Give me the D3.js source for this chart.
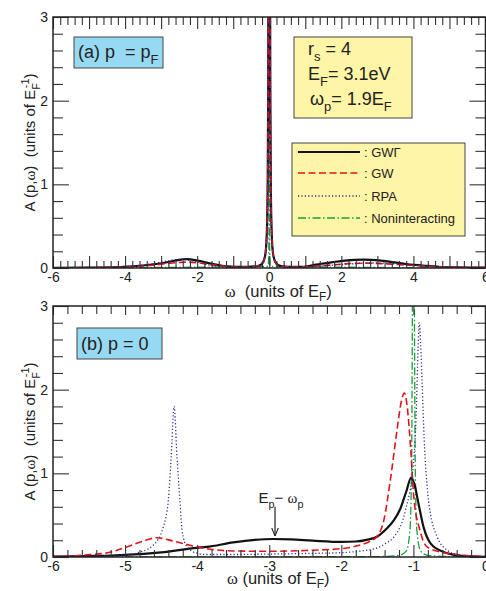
<!DOCTYPE html>
<html><head><meta charset="utf-8">
<script src="https://cdn.jsdelivr.net/npm/d3@7"></script>
<style>
html,body{margin:0;padding:0;background:#fff;}
svg{display:block;font-family:"Liberation Sans",Arial,Helvetica,sans-serif;}
text{fill:#222;}
</style></head><body>
<svg id="c" width="486" height="591"></svg>
<script>
// ---------------- data ----------------
const seriesNames = ["GWΓ", "GW", "RPA", "Noninteracting"];

// Panel (a): p = pF   [omega, A]
const topGWG = [[-6,0.002],[-5,0.004],[-4.2,0.01],[-3.8,0.02],[-3.5,0.03],[-3.2,0.045],[-2.94,0.06],[-2.6,0.09],[-2.29,0.107],[-2.0,0.09],[-1.65,0.056],[-1.4,0.035],[-1.19,0.02],[-0.9,0.015],[-0.6,0.015],[-0.4,0.02],[-0.3,0.025],[-0.2,0.05],[-0.12,0.135],[-0.08,0.3],[-0.065,0.46],[-0.045,0.95],[-0.03,2.1],[-0.02,4.5],[-0.01,12],[0,30],[0.01,12],[0.02,4.5],[0.03,2.1],[0.045,0.95],[0.065,0.46],[0.08,0.3],[0.12,0.135],[0.2,0.05],[0.3,0.025],[0.5,0.015],[0.9,0.015],[1.3,0.04],[1.68,0.065],[2.1,0.088],[2.6,0.1],[3.1,0.088],[3.52,0.065],[3.9,0.042],[4.26,0.03],[4.7,0.015],[5.2,0.008],[6,0.004]];
const topGW = [[-6,0.002],[-4.5,0.008],[-3.8,0.015],[-3.3,0.03],[-2.9,0.05],[-2.5,0.066],[-2.25,0.07],[-2.0,0.063],[-1.7,0.045],[-1.4,0.028],[-1.1,0.016],[-0.7,0.012],[-0.3,0.025],[-0.2,0.05],[-0.12,0.135],[-0.08,0.3],[-0.065,0.46],[-0.045,0.95],[-0.03,2.1],[-0.02,4.5],[-0.01,12],[0,30],[0.01,12],[0.02,4.5],[0.03,2.1],[0.045,0.95],[0.065,0.46],[0.08,0.3],[0.12,0.135],[0.2,0.05],[0.3,0.025],[0.7,0.012],[1.2,0.02],[1.7,0.035],[2.2,0.052],[2.7,0.058],[3.2,0.05],[3.7,0.037],[4.2,0.025],[4.8,0.014],[5.5,0.007],[6,0.005]];
const topRPA = [[-6,0.002],[-4,0.015],[-3.5,0.035],[-3.0,0.07],[-2.6,0.1],[-2.4,0.105],[-2.2,0.09],[-1.9,0.06],[-1.6,0.03],[-1.3,0.015],[-0.8,0.01],[-0.3,0.025],[-0.2,0.05],[-0.12,0.135],[-0.08,0.3],[-0.065,0.46],[-0.045,0.95],[-0.03,2.1],[-0.02,4.5],[-0.01,12],[0,30],[0.01,12],[0.02,4.5],[0.03,2.1],[0.045,0.95],[0.065,0.46],[0.08,0.3],[0.12,0.135],[0.2,0.05],[0.3,0.025],[0.8,0.01],[1.3,0.02],[1.8,0.035],[2.3,0.05],[2.8,0.06],[3.3,0.055],[3.8,0.04],[4.3,0.027],[5,0.012],[6,0.005]];
const topNonint = [[-6,0],[-0.03,0.02],[-0.01,0.3],[-0.003,3],[0,50],[0.003,3],[0.01,0.3],[0.03,0.02],[6,0]];

// Panel (b): p = 0   [omega, A]
const botGWG = [[-6,0.005],[-5.5,0.012],[-5.2,0.018],[-5,0.025],[-4.5,0.056],[-4,0.11],[-3.87,0.12],[-3.5,0.175],[-3.2,0.205],[-2.95,0.215],[-2.7,0.21],[-2.4,0.195],[-2.0,0.18],[-1.8,0.185],[-1.65,0.205],[-1.5,0.245],[-1.37,0.34],[-1.27,0.44],[-1.18,0.58],[-1.1,0.78],[-1.03,0.95],[-0.98,0.85],[-0.93,0.64],[-0.86,0.36],[-0.76,0.16],[-0.58,0.06],[-0.39,0.02],[-0.2,0.008],[0,0.003]];
const botGW = [[-6,0.005],[-5.7,0.015],[-5.5,0.028],[-5.21,0.056],[-4.98,0.12],[-4.75,0.19],[-4.56,0.23],[-4.33,0.19],[-4.1,0.14],[-3.87,0.1],[-3.5,0.072],[-3.0,0.068],[-2.5,0.078],[-2.0,0.1],[-1.75,0.14],[-1.6,0.19],[-1.5,0.25],[-1.41,0.44],[-1.32,0.92],[-1.227,1.52],[-1.17,1.85],[-1.125,1.96],[-1.08,1.75],[-1.04,1.32],[-0.995,0.72],[-0.91,0.32],[-0.81,0.12],[-0.625,0.06],[-0.4,0.03],[-0.2,0.012],[0,0.005]];
const botRPA = [[-6,0.003],[-5.5,0.01],[-5.02,0.025],[-4.79,0.06],[-4.61,0.14],[-4.47,0.36],[-4.4,0.68],[-4.36,1.2],[-4.32,1.8],[-4.28,1.2],[-4.24,0.68],[-4.21,0.32],[-4.14,0.12],[-4.0,0.045],[-3.87,0.03],[-3.5,0.03],[-3.0,0.035],[-2.5,0.042],[-2.0,0.052],[-1.7,0.075],[-1.5,0.11],[-1.37,0.17],[-1.27,0.24],[-1.11,0.56],[-1.0,1.12],[-0.96,1.75],[-0.935,2.5],[-0.92,2.8],[-0.9,2.55],[-0.88,2.1],[-0.85,1.4],[-0.8,0.75],[-0.76,0.5],[-0.67,0.24],[-0.53,0.08],[-0.375,0.025],[-0.2,0.008],[0,0.003]];
const botNonint = [[-6,0],[-1.5,0.005],[-1.2,0.02],[-1.1,0.07],[-1.05,0.3],[-1.03,0.8],[-1.02,1.8],[-1.012,4],[-1.0,50],[-0.988,4],[-0.98,1.8],[-0.97,0.8],[-0.95,0.3],[-0.9,0.07],[-0.8,0.02],[-0.5,0.005],[0,0]];

const topXLabels = [-6, -4, -2, 0, 2, 4, 6];
const botXLabels = [-6, -5, -4, -3, -2, -1, 0];
const yLabels = [0, 1, 2, 3];
const annotationPoint = [-2.92, 0.6, 0.25]; // omega, A at arrow tail, A at arrow head

// ---------------- drawing ----------------
const svg = d3.select("#c");
const styles = [
  {color:"#111111", width:2.2, dash:null},
  {color:"#e3131b", width:1.6, dash:"7,3.5"},
  {color:"#2b2b9e", width:1.3, dash:"1.2,2.2"},
  {color:"#1a9e3c", width:1.3, dash:"8,2.5,1.5,2.5"}
];

function rich(sel, x, y, segs, size, anchor, rotate, subShift) {
  const t = sel.append("text").attr("x", x).attr("y", y)
    .attr("font-size", size).attr("text-anchor", anchor || "start")
    .style("white-space", "pre");
  if (rotate) t.attr("transform", `rotate(${rotate},${x},${y})`);
  let shift = 0;
  segs.forEach(s => {
    const txt = typeof s === "string" ? s : s[0];
    const kind = typeof s === "string" ? null : s[1];
    const opt = (typeof s === "string" ? null : s[2]) || {};
    const target = kind === "sub" ? size * (subShift || 0.32) : kind === "sup" ? -size * 0.42 : 0;
    const ts = t.append("tspan").text(txt).attr("dy", target - shift);
    if (kind) ts.attr("font-size", size * 0.72);
    if (opt.serif) ts.attr("font-family", "'Liberation Serif','DejaVu Serif',serif");
    if (opt.dx) ts.attr("dx", opt.dx);
    shift = target;
  });
  return t;
}

function panel(cfg) {
  const g = svg.append("g");
  const x = d3.scaleLinear().domain(cfg.xDomain).range([cfg.left, cfg.right]);
  const y = d3.scaleLinear().domain([0, 3]).range([cfg.bottom, cfg.top]);
  const id = "clip" + cfg.name;
  svg.append("clipPath").attr("id", id).append("rect")
    .attr("x", cfg.left).attr("y", cfg.top)
    .attr("width", cfg.right - cfg.left).attr("height", cfg.bottom - cfg.top);

  const line = d3.line().x(d => x(d[0])).y(d => y(d[1])).curve(d3.curveMonotoneX);
  const lines = g.append("g").attr("clip-path", `url(#${id})`);
  cfg.order.forEach(i => {
    const st = styles[i];
    lines.append("path").datum(cfg.series[i]).attr("d", line)
      .attr("fill", "none").attr("stroke", st.color).attr("stroke-width", st.width)
      .attr("stroke-dasharray", st.dash).attr("stroke-linejoin", "round");
  });

  const [x0, x1] = cfg.xDomain;
  const minorX = d3.range(x0, x1 + 1e-9, 0.2).map(v => +v.toFixed(2)).filter(v => Math.abs(v - Math.round(v)) > 1e-6);
  const majorX = d3.range(x0, x1 + 1e-9, 1);
  const minorY = d3.range(0, 3 + 1e-9, 0.2).map(v => +v.toFixed(2)).filter(v => Math.abs(v - Math.round(v)) > 1e-6);

  const ax = g.append("g");
  const add = (gen, tr) => ax.append("g").attr("transform", tr).call(gen);
  add(d3.axisBottom(x).tickValues(minorX).tickSize(-7).tickFormat(""), `translate(0,${cfg.bottom})`);
  add(d3.axisBottom(x).tickValues(majorX).tickSize(-12).tickFormat(""), `translate(0,${cfg.bottom})`);
  add(d3.axisBottom(x).tickValues(cfg.xLabels).tickSize(0).tickPadding(4).tickFormat(d => String(d)), `translate(0,${cfg.bottom})`);
  add(d3.axisTop(x).tickValues(minorX).tickSize(-8).tickFormat(""), `translate(0,${cfg.top})`);
  add(d3.axisTop(x).tickValues(majorX).tickSize(cfg.topMajor).tickFormat(""), `translate(0,${cfg.top})`);
  add(d3.axisLeft(y).tickValues(minorY).tickSize(-10).tickFormat(""), `translate(${cfg.left},0)`);
  add(d3.axisLeft(y).tickValues(yLabels).tickSize(-16).tickPadding(5).tickFormat(d => String(d)), `translate(${cfg.left},0)`);
  add(d3.axisRight(y).tickValues(minorY).tickSize(-10).tickFormat(""), `translate(${cfg.right},0)`);
  add(d3.axisRight(y).tickValues(yLabels).tickSize(-16).tickFormat(""), `translate(${cfg.right},0)`);
  ax.selectAll(".domain").remove();
  ax.selectAll(".tick line").attr("stroke", "#333").attr("stroke-width", 1.1);
  ax.selectAll(".tick text").attr("font-size", 14).attr("fill", "#222")
    .attr("font-family", "'Liberation Sans',Arial,sans-serif");

  g.append("rect").attr("x", cfg.left).attr("y", cfg.top)
    .attr("width", cfg.right - cfg.left).attr("height", cfg.bottom - cfg.top)
    .attr("fill", "none").attr("stroke", "#222").attr("stroke-width", 1.5);

  // axis titles
  rich(g, (cfg.left + cfg.right) / 2 + 9, cfg.bottom + cfg.titleGap, [["ω", null, {serif:true}], cfg.titleSpace + "(units of E", ["F", "sub"], ")"], 16.5, "middle", null, 0.26);
  rich(g, 35, (cfg.top + cfg.bottom) / 2, ["A (p,", ["ω", null, {serif:true}], ")  (units of E", ["F", "sub"], ["-1", "sup", {dx:-5}], ")"], 15, "middle", -90);
  return {x, y, g};
}

// Panel (a)
const pa = panel({name:"a", xDomain:[-6, 6], left:53, right:485.5, top:17, bottom:268,
  series:[topGWG, topGW, topRPA, topNonint], order:[3, 0, 1, 2], xLabels:topXLabels, topMajor:-12,
  titleGap:29, titleSpace:"  "});
// Panel (b)
const pb = panel({name:"b", xDomain:[-6, 0], left:53, right:485.5, top:306, bottom:557,
  series:[botGWG, botGW, botRPA, botNonint], order:[3, 0, 1, 2], xLabels:botXLabels, topMajor:-9,
  titleGap:27, titleSpace:" "});

// panel tags
svg.append("rect").attr("x", 74).attr("y", 37).attr("width", 89).attr("height", 31)
  .attr("fill", "#97d9f3").attr("stroke", "#444").attr("stroke-width", 1);
rich(svg, 78, 58, ["(a) p  = p", ["F", "sub"]], 18);
svg.append("rect").attr("x", 77).attr("y", 328).attr("width", 85).attr("height", 31)
  .attr("fill", "#97d9f3").attr("stroke", "#444").attr("stroke-width", 1);
rich(svg, 81, 350, ["(b) p = 0"], 18);

// parameters box
svg.append("rect").attr("x", 294).attr("y", 37).attr("width", 118).attr("height", 81)
  .attr("fill", "#fff5a6").attr("stroke", "#444").attr("stroke-width", 1);
rich(svg, 308, 55, ["r", ["s", "sub"], " = 4"], 18);
rich(svg, 308, 80, ["E", ["F", "sub"], "= 3.1eV"], 18);
rich(svg, 310, 105, ["ω", ["p", "sub"], "= 1.9E", ["F", "sub"]], 18);

// legend
svg.append("rect").attr("x", 292).attr("y", 143).attr("width", 173).attr("height", 93)
  .attr("fill", "#fff5a6").attr("stroke", "#444").attr("stroke-width", 1);
const legY = [152, 173, 196, 218];
seriesNames.forEach((n, i) => {
  const st = styles[i];
  svg.append("line").attr("x1", 298).attr("x2", 360).attr("y1", legY[i]).attr("y2", legY[i])
    .attr("stroke", st.color).attr("stroke-width", st.width).attr("stroke-dasharray", st.dash);
  svg.append("text").attr("x", 364).attr("y", legY[i] + 5).attr("font-size", 13).text(": " + n);
});

// annotation E_p - omega_p
svg.append("defs").append("marker").attr("id", "arr").attr("viewBox", "0 0 10 10")
  .attr("refX", 10).attr("refY", 5).attr("markerWidth", 7).attr("markerHeight", 7)
  .attr("orient", "auto").append("path").attr("d", "M0,1 L10,5 L0,9").attr("fill", "none")
  .attr("stroke", "#222").attr("stroke-width", 1.3);
const ax0 = pb.x(annotationPoint[0]);
svg.append("line").attr("x1", ax0).attr("x2", ax0)
  .attr("y1", pb.y(annotationPoint[1])).attr("y2", pb.y(annotationPoint[2]))
  .attr("stroke", "#222").attr("stroke-width", 1.2).attr("marker-end", "url(#arr)");
rich(svg, ax0 + 6, pb.y(annotationPoint[1]) - 4, ["E", ["p", "sub"], "− ", ["ω", null, {serif:true}], ["p", "sub"]], 15, "middle");
</script>
</body></html>
